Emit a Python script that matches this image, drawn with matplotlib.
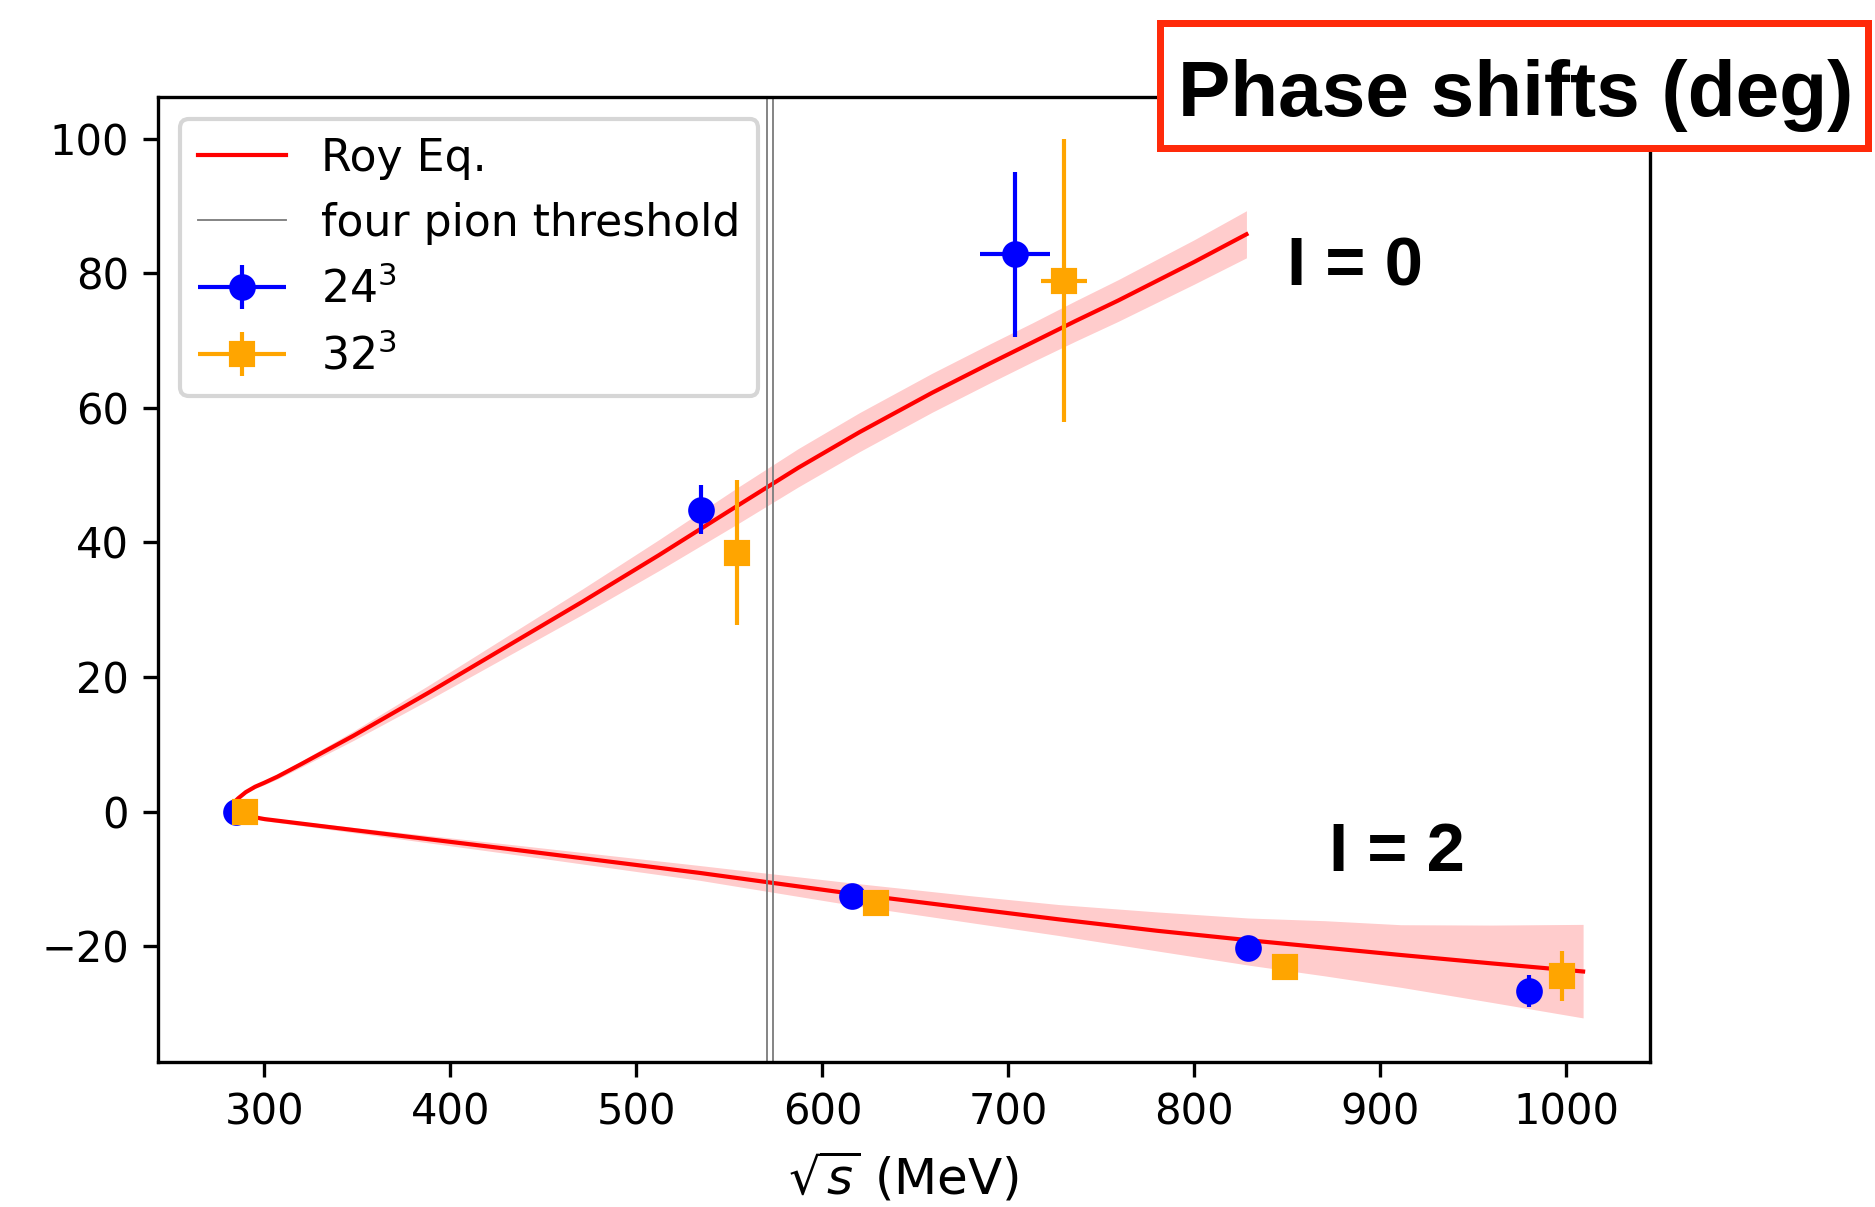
import numpy as np
import matplotlib
matplotlib.use("Agg")
import matplotlib.pyplot as plt
from matplotlib.patches import Rectangle
from matplotlib.legend_handler import HandlerErrorbar
from matplotlib.container import ErrorbarContainer

# ---------------- data ----------------
# Roy equation curves (sqrt(s) in MeV, phase shift in deg)
roy_i0_x = [280, 281, 283, 286, 290, 295, 300, 307, 320, 348, 389, 430, 471, 512, 554, 587, 620, 659, 690, 713, 736, 759, 800, 828]
roy_i0_y = [0.0, 0.6, 1.2, 2.0, 2.9, 3.7, 4.3, 5.2, 7.1, 11.3, 17.8, 24.5, 31.2, 38.1, 45.4, 51.1, 56.4, 62.25, 66.6, 69.75, 72.9, 75.95, 81.7, 85.8]
roy_i0_err = [0.0, 0.05, 0.1, 0.15, 0.2, 0.25, 0.3, 0.35, 0.45, 0.7, 1.1, 1.5, 1.9, 2.3, 2.7, 2.85, 2.9, 2.9, 2.9, 2.9, 3.0, 3.1, 3.3, 3.5]

roy_i2_x = [280, 290, 300, 350, 430, 534, 616, 680, 727, 780, 829, 870, 911, 960, 1009]
roy_i2_y = [0.0, -0.6, -1.1, -2.8, -5.5, -9.1, -12.2, -14.4, -16.0, -17.7, -19.1, -20.2, -21.3, -22.55, -23.75]
roy_i2_up = [0.0, 0.15, 0.25, 0.4, 0.7, 1.1, 1.6, 1.9, 2.2, 2.8, 3.3, 4.0, 4.5, 5.7, 7.0]
roy_i2_dn = [0.0, 0.15, 0.25, 0.4, 0.7, 1.1, 1.7, 2.1, 2.4, 3.0, 3.7, 4.2, 4.8, 5.8, 6.9]

# four pion thresholds (MeV)
thresholds = [570.0, 573.6]

# lattice results, 24^3
l24_x = [284.5, 534.9, 703.5, 615.9, 829.0, 980.1]
l24_y = [0.0, 44.9, 82.8, -12.6, -20.3, -26.7]
l24_yerr = [0.0, 3.6, 12.2, 1.0, 1.0, 2.4]
l24_xerr = [0.0, 0.0, 18.9, 0.0, 0.0, 0.0]

# lattice results, 32^3
l32_x = [289.5, 554.3, 729.8, 629.0, 848.7, 997.7]
l32_y = [0.0, 38.5, 78.9, -13.55, -23.1, -24.4]
l32_yerr = [0.0, 10.8, 21.0, 1.0, 1.0, 3.7]
l32_xerr = [0.0, 0.0, 12.5, 0.0, 0.0, 0.0]

xticks = [300, 400, 500, 600, 700, 800, 900, 1000]
yticks = [-20, 0, 20, 40, 60, 80, 100]

# ---------------- figure ----------------
W, H = 1875, 1207
DPI = 300
fig = plt.figure(figsize=(W / DPI, H / DPI), dpi=DPI)
ax = fig.add_axes([158 / W, 1 - 1062 / H, (1649.5 - 158) / W, (1062 - 97) / H])

x0 = np.array(roy_i0_x, float); y0 = np.array(roy_i0_y); e0 = np.array(roy_i0_err)
x2 = np.array(roy_i2_x, float); y2 = np.array(roy_i2_y)
ax.fill_between(x0, y0 - e0, y0 + e0, color="red", alpha=0.2, lw=0)
ax.fill_between(x2, y2 - np.array(roy_i2_dn), y2 + np.array(roy_i2_up), color="red", alpha=0.2, lw=0)
ax.plot(x0, y0, color="red", lw=1.0, label="Roy Eq.")
ax.plot(x2, y2, color="red", lw=1.0)

ax.axvline(thresholds[0], color="gray", lw=0.45, label="four pion threshold")
ax.axvline(thresholds[1], color="gray", lw=0.45)

ax.errorbar(l24_x, l24_y, yerr=l24_yerr, xerr=l24_xerr, fmt="o", color="blue",
            ms=5.4, elinewidth=1.0, capsize=0, label=r"$24^3$", zorder=4)
ax.errorbar(l32_x, l32_y, yerr=l32_yerr, xerr=l32_xerr, fmt="s", color="orange",
            ms=5.3, elinewidth=1.0, capsize=0, label=r"$32^3$", zorder=4)

ax.set_xlim(242.8, 1044.7)
ax.set_ylim(-37.2, 106.2)
ax.set_xticks(xticks)
ax.set_yticks(yticks)
ax.tick_params(labelsize=10)
ax.set_xlabel(r"$\sqrt{s}$ (MeV)", fontsize=12)

ax.legend(loc="upper left", fontsize=10.6,
          handler_map={ErrorbarContainer: HandlerErrorbar(xerr_size=1.0, yerr_size=0.5)})

# isospin labels
fig.text(1287 / W, 1 - 286 / H, "I = 0", fontsize=16.5, fontweight="bold",
         family="Liberation Sans", ha="left", va="baseline")
fig.text(1329 / W, 1 - 871 / H, "I = 2", fontsize=16.5, fontweight="bold",
         family="Liberation Sans", ha="left", va="baseline")

# title box
bx0, bx1, by0, by1 = 1160, 1867.5, 22.8, 148.2
fig.add_artist(Rectangle((bx0 / W, 1 - by1 / H), (bx1 - bx0) / W, (by1 - by0) / H,
                         transform=fig.transFigure, facecolor="white",
                         edgecolor="#ff2a0a", lw=1.68, zorder=5))
fig.text(1515.5 / W, 1 - 116 / H, "Phase shifts (deg)", fontsize=18.8, fontweight="bold",
         family="Liberation Sans", ha="center", va="baseline", zorder=6)

fig.savefig("out.png", dpi=DPI)
